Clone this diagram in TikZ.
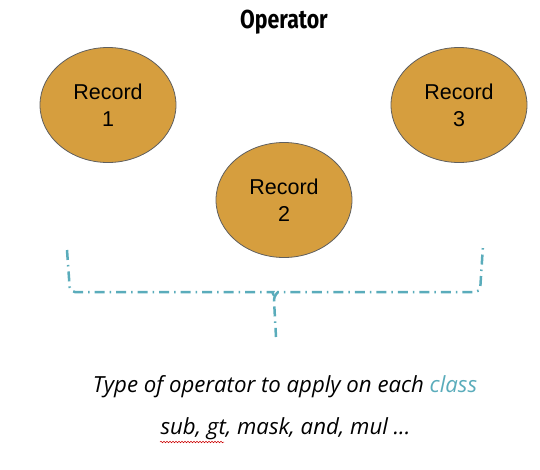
\documentclass[tikz,border=0pt]{standalone}
\usepackage{fontspec}
\setmainfont{Liberation Sans}
\newfontfamily\titlefont[FakeStretch=0.82]{Fira Sans}
\newfontfamily\capfont{Open Sans}
\usetikzlibrary{shapes.geometric,decorations.pathmorphing}
\definecolor{recfill}{HTML}{D69E3E}
\definecolor{recline}{HTML}{5F5F5F}
\definecolor{teal}{HTML}{5AACBB}
\tikzset{
  record/.style={ellipse, draw=recline, line width=0.8pt, fill=recfill,
    minimum width=136pt, minimum height=115pt, inner sep=0pt,
    align=center, font=\fontsize{21.5}{27}\selectfont},
  bracket/.style={draw=teal, line width=2.5pt,
    dash pattern=on 10pt off 5pt on 1.5pt off 5pt, rounded corners=5pt},
  caption/.style={font=\capfont\itshape\fontsize{22.2}{26}\selectfont}
}
\begin{document}
\begin{tikzpicture}[x=1pt,y=-1pt]
\useasboundingbox (0,0) rectangle (540,469);
\node[font=\titlefont\bfseries\fontsize{26}{30}\selectfont] (title) at (284,22) {Operator};
\node[record] (r1) at (108,105) {Record\\1};
\node[record] (r3) at (459,105) {Record\\3};
\node[record] (r2) at (284,200) {Record\\2};
\coordinate (bl) at (67,250);
\coordinate (br) at (483,245);
\coordinate (bm) at (276,337);
\draw[bracket] (bl) -- (70,292) -- (268,292) to[out=0,in=90] (274,300) -- (bm);
\draw[bracket] (274,300) to[out=90,in=180] (283,292) -- (480,292) -- (br);
\node[caption] (c1) at (285,387) {Type of operator to apply on each \textcolor{teal}{class}};
\node[caption, anchor=west] (c2) at (157,429) {sub, gt, mask, and, mul ...};
\coordinate (wl) at (160,442);
\coordinate (wr) at (224,442);
\draw[red!80!black, line width=0.5pt, decorate,
  decoration={snake, amplitude=0.8pt, segment length=3pt}] (wl) -- (wr);
\end{tikzpicture}
\end{document}
